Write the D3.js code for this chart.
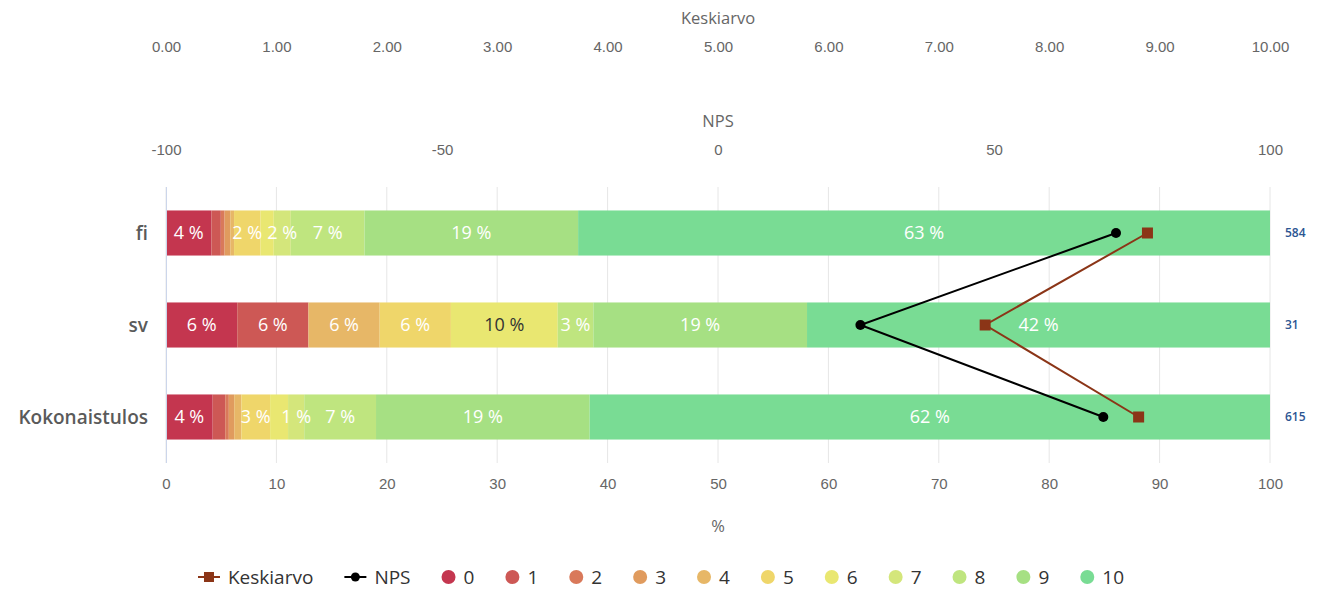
<!DOCTYPE html>
<html>
<head>
<meta charset="utf-8">
<script src="https://cdn.jsdelivr.net/npm/d3@7"></script>
<style>
  body { margin: 0; background: #fff; }
  svg { display: block; font-family: "Open Sans", "Noto Sans", sans-serif; }
</style>
</head>
<body>
<svg id="chart" width="1319" height="599"></svg>
<script>
// Categories and respondent counts
const categories = ["fi", "sv", "Kokonaistulos"];
const respondents = [584, 31, 615];

// Answer scale 0–10 and its colours
const scores = ["0", "1", "2", "3", "4", "5", "6", "7", "8", "9", "10"];
const scoreColors = ["#c4364f", "#cd5855", "#d9795a", "#e09b5e", "#e7b767", "#efd66a",
                     "#e9e771", "#d4e67b", "#bfe57f", "#a6e083", "#79dc94"];

// Number of answers per score (0..10) in each category
const countsFi    = [24, 5, 2, 3, 2, 14, 7, 9, 39, 113, 366];
const countsSv    = [2, 2, 0, 0, 2, 2, 3, 0, 1, 6, 13];
const countsTotal = [26, 7, 2, 3, 4, 16, 10, 9, 40, 119, 379];

// Net Promoter Score and mean per category
const npsValues  = [72.1, 25.8, 69.8];
const meanValues = [8.89, 7.42, 8.81];

// Axis ticks
const pctTicks  = [0, 10, 20, 30, 40, 50, 60, 70, 80, 90, 100];
const meanTicks = [0, 1, 2, 3, 4, 5, 6, 7, 8, 9, 10];
const npsTicks  = [-100, -50, 0, 50, 100];

const countsByCategory = [countsFi, countsSv, countsTotal];

const svg = d3.select("#chart");
const plot = { left: 166, right: 1270, top: 187, bottom: 463 };

const x = d3.scaleLinear().domain([0, 100]).range([plot.left, plot.right]);
const xMean = d3.scaleLinear().domain([0, 10]).range([plot.left, plot.right]);
const xNps = d3.scaleLinear().domain([-100, 100]).range([plot.left, plot.right]);
const y = d3.scaleBand().domain(categories).range([plot.top, plot.bottom]).paddingInner(0.51).paddingOuter(0.255);

const axisColor = "#666";

// Vertical grid lines
svg.append("g").selectAll("line").data(pctTicks).join("line")
  .attr("x1", d => x(d)).attr("x2", d => x(d))
  .attr("y1", plot.top).attr("y2", plot.bottom)
  .attr("stroke", "#e6e6e6").attr("stroke-width", 1);

// Stacked segments
const segments = [];
categories.forEach((cat, ci) => {
  const counts = countsByCategory[ci];
  const total = d3.sum(counts);
  let acc = 0;
  counts.forEach((c, si) => {
    const pct = c / total * 100;
    segments.push({ cat, ci, si, pct, x0: acc, x1: acc + pct });
    acc += pct;
  });
});

svg.append("g").selectAll("rect").data(segments.filter(d => d.pct > 0)).join("rect")
  .attr("x", d => x(d.x0))
  .attr("y", d => y(d.cat))
  .attr("width", d => x(d.x1) - x(d.x0))
  .attr("height", y.bandwidth())
  .attr("fill", d => scoreColors[d.si]);

// Category axis line
svg.append("line")
  .attr("x1", plot.left + 0.5).attr("x2", plot.left + 0.5)
  .attr("y1", plot.top).attr("y2", plot.bottom)
  .attr("stroke", "#ccd6eb");

// Segment value labels, larger segments first; overlapping labels are dropped
function textBrightness(hex) {
  const c = d3.rgb(hex);
  return (c.r * 299 + c.g * 587 + c.b * 114) / 1000;
}
const labelLayer = svg.append("g");
const placed = [];
segments.filter(d => d.pct > 0)
  .sort((a, b) => b.pct - a.pct)
  .forEach(d => {
    const cx = (x(d.x0) + x(d.x1)) / 2;
    const cy = y(d.cat) + y.bandwidth() / 2;
    const t = labelLayer.append("text")
      .attr("x", cx).attr("y", cy)
      .attr("dy", "0.36em")
      .attr("text-anchor", "middle")
      .attr("font-size", 18)
      .attr("fill", textBrightness(scoreColors[d.si]) > 215 ? "#333" : "#fff")
      .text(Math.round(d.pct) + " %");
    const w = t.node().getComputedTextLength();
    const box = { ci: d.ci, l: cx - w / 2 - 0.5, r: cx + w / 2 + 0.5 };
    const hit = placed.some(p => p.ci === box.ci && p.l < box.r && box.l < p.r);
    if (hit) t.remove(); else placed.push(box);
  });

// Category labels
svg.append("g").selectAll("text").data(categories).join("text")
  .attr("x", 148)
  .attr("y", d => y(d) + y.bandwidth() / 2)
  .attr("dy", "0.36em")
  .attr("text-anchor", "end")
  .attr("font-size", 19)
  .attr("font-weight", 600)
  .attr("fill", "#5a5a5a")
  .text(d => d);

// Respondent counts on the right
svg.append("g").selectAll("text").data(respondents).join("text")
  .attr("x", 1285)
  .attr("y", (d, i) => y(categories[i]) + y.bandwidth() / 2)
  .attr("dy", "0.36em")
  .attr("font-size", 12)
  .attr("font-weight", 600)
  .attr("fill", "#2c5592")
  .text(d => d);

// Bottom percentage axis
const bottomAxis = svg.append("g")
  .attr("transform", `translate(0,${plot.bottom})`)
  .call(d3.axisBottom(x).tickValues(pctTicks).tickSize(0).tickPadding(15).tickFormat(d => String(d)));
bottomAxis.select(".domain").remove();
bottomAxis.selectAll("text").attr("font-size", 15).attr("fill", axisColor).attr("font-family", null);
svg.append("text").attr("x", (plot.left + plot.right) / 2).attr("y", 526).attr("dy", "0.36em")
  .attr("text-anchor", "middle").attr("font-size", 16.5).attr("fill", axisColor).text("%");

// Top mean axis
const meanAxis = svg.append("g")
  .attr("transform", "translate(0,47)")
  .call(d3.axisTop(xMean).tickValues(meanTicks).tickSize(0).tickPadding(0).tickFormat(d3.format(".2f")));
meanAxis.select(".domain").remove();
meanAxis.selectAll("text").attr("font-size", 15).attr("fill", axisColor).attr("font-family", null).attr("dy", "0.36em");
svg.append("text").attr("x", (plot.left + plot.right) / 2).attr("y", 18).attr("dy", "0.36em")
  .attr("text-anchor", "middle").attr("font-size", 16.5).attr("fill", axisColor).text("Keskiarvo");

// Top NPS axis
const npsAxis = svg.append("g")
  .attr("transform", "translate(0,150)")
  .call(d3.axisTop(xNps).tickValues(npsTicks).tickSize(0).tickPadding(0).tickFormat(d => String(d)));
npsAxis.select(".domain").remove();
npsAxis.selectAll("text").attr("font-size", 15).attr("fill", axisColor).attr("font-family", null).attr("dy", "0.36em");
svg.append("text").attr("x", (plot.left + plot.right) / 2).attr("y", 121).attr("dy", "0.36em")
  .attr("text-anchor", "middle").attr("font-size", 16.5).attr("fill", axisColor).text("NPS");

// Mean line with square markers
const meanColor = "#8b3517";
const cyOf = i => y(categories[i]) + y.bandwidth() / 2;
svg.append("path")
  .datum(meanValues)
  .attr("d", d3.line().x(d => xMean(d)).y((d, i) => cyOf(i)))
  .attr("fill", "none").attr("stroke", meanColor).attr("stroke-width", 2);
svg.append("g").selectAll("rect").data(meanValues).join("rect")
  .attr("x", d => xMean(d) - 5.5).attr("y", (d, i) => cyOf(i) - 5.5)
  .attr("width", 11).attr("height", 11).attr("fill", meanColor);

// NPS line with circle markers
svg.append("path")
  .datum(npsValues)
  .attr("d", d3.line().x(d => xNps(d)).y((d, i) => cyOf(i)))
  .attr("fill", "none").attr("stroke", "#000").attr("stroke-width", 2);
svg.append("g").selectAll("circle").data(npsValues).join("circle")
  .attr("cx", d => xNps(d)).attr("cy", (d, i) => cyOf(i))
  .attr("r", 5).attr("fill", "#000");

// Legend
const legendItems = [
  { name: "Keskiarvo", type: "line", color: meanColor, marker: "square" },
  { name: "NPS", type: "line", color: "#000", marker: "circle" }
].concat(scores.map((s, i) => ({ name: s, type: "dot", color: scoreColors[i] })));

const legend = svg.append("g");
const legendY = 577;
const itemGap = 31;
let cursor = 0;
const legendGroups = legendItems.map(item => {
  const g = legend.append("g");
  const symW = item.type === "line" ? 22 : 14;
  if (item.type === "line") {
    g.append("line").attr("x1", 0).attr("x2", symW).attr("y1", 0).attr("y2", 0)
      .attr("stroke", item.color).attr("stroke-width", 2);
    if (item.marker === "square") {
      g.append("rect").attr("x", symW / 2 - 5).attr("y", -5).attr("width", 10).attr("height", 10).attr("fill", item.color);
    } else {
      g.append("circle").attr("cx", symW / 2).attr("cy", 0).attr("r", 4.5).attr("fill", item.color);
    }
  } else {
    g.append("circle").attr("cx", symW / 2).attr("cy", 0).attr("r", 7).attr("fill", item.color);
  }
  const t = g.append("text").attr("x", symW + 8).attr("y", 0).attr("dy", "0.36em")
    .attr("font-size", 19).attr("fill", "#333").text(item.name);
  const w = symW + 8 + t.node().getComputedTextLength();
  const start = cursor;
  cursor += w + itemGap;
  return { g, start };
});
const totalW = cursor - itemGap;
const legendLeft = 661 - totalW / 2;
legendGroups.forEach(({ g, start }) => g.attr("transform", `translate(${legendLeft + start},${legendY})`));
</script>
</body>
</html>
